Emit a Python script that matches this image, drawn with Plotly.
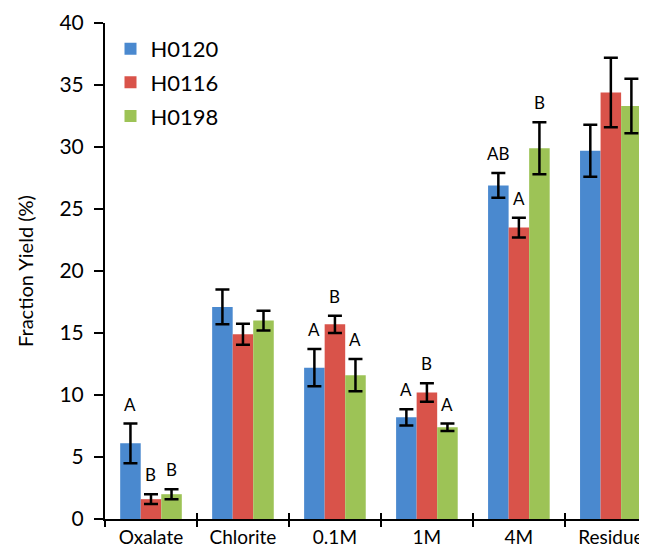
import plotly.graph_objects as go

categories = ["Oxalate", "Chlorite", "0.1M", "1M", "4M", "Residue"]
series_names = ["H0120", "H0116", "H0198"]
h0120 = [6.1, 17.1, 12.2, 8.2, 26.9, 29.7]
h0120_err = [1.6, 1.4, 1.5, 0.65, 1.0, 2.1]
h0116 = [1.6, 14.9, 15.7, 10.2, 23.5, 34.4]
h0116_err = [0.4, 0.85, 0.7, 0.75, 0.8, 2.8]
h0198 = [2.0, 16.0, 11.6, 7.4, 29.9, 33.3]
h0198_err = [0.4, 0.8, 1.3, 0.3, 2.1, 2.2]
letters_h0120 = ["A", "", "A", "A", "AB", ""]
letters_h0116 = ["B", "", "B", "B", "A", ""]
letters_h0198 = ["B", "", "A", "A", "B", ""]
y_ticks = [0, 5, 10, 15, 20, 25, 30, 35, 40]

colors = ["#4A89CF", "#D9534A", "#9DC356"]
values = [h0120, h0116, h0198]
errors = [h0120_err, h0116_err, h0198_err]
letters = [letters_h0120, letters_h0116, letters_h0198]

FONT = "Lato"
W, H = 647, 553
ML, MR, MT, MB = 97, 0, 15, 42
bargap = 0.33
xr = [-0.5, 5.48]

fig = go.Figure()
for i in range(3):
    fig.add_trace(go.Bar(
        x=categories, y=values[i], name=series_names[i],
        marker=dict(color=colors[i], line=dict(width=0)),
        error_y=dict(type="data", array=errors[i], color="black",
                     thickness=2.5, width=7),
        legendgroup=series_names[i],
    ))

# overlay axis providing the inward half of the x tick marks
fig.add_trace(go.Scatter(x=categories, y=[None]*6, xaxis="x2",
                         showlegend=False, hoverinfo="skip"))

plot_w = W - ML - MR
cat_px = plot_w / (xr[1] - xr[0])
bar_px = cat_px * (1 - bargap) / 3

for i in range(3):
    for j, cat in enumerate(categories):
        if letters[i][j]:
            fig.add_annotation(
                x=cat, y=values[i][j] + errors[i][j], xref="x", yref="y",
                text=letters[i][j], showarrow=False, yanchor="bottom",
                xshift=(i - 1) * bar_px, yshift=7,
                font=dict(family=FONT, size=17, color="black"))

axis_common = dict(showgrid=False, zeroline=False)
fig.update_layout(
    width=W, height=H,
    margin=dict(l=ML, r=MR, t=MT, b=MB),
    paper_bgcolor="white", plot_bgcolor="white",
    barmode="group", bargap=bargap, bargroupgap=0,
    font=dict(family=FONT, color="black"),
    showlegend=True,
    legend=dict(x=0.01, y=0.99, xanchor="left", yanchor="top",
                font=dict(family=FONT, size=22), tracegroupgap=2,
                bgcolor="rgba(0,0,0,0)"),
    xaxis=dict(**axis_common, range=xr, type="category",
               showline=True, linecolor="black", linewidth=2,
               ticks="outside", tickson="boundaries", ticklen=6,
               tickwidth=2, tickcolor="black", ticklabelstandoff=0,
               tickfont=dict(family=FONT, size=19)),
    xaxis2=dict(**axis_common, range=xr, type="category", overlaying="x",
                showline=False, ticks="inside",
                tickson="boundaries", ticklen=6, tickwidth=2,
                tickcolor="black", showticklabels=False, anchor="y"),
    yaxis=dict(**axis_common, range=[0, 40], tickvals=y_ticks,
               showline=True, linecolor="black", linewidth=2,
               ticks="outside", ticklen=9, tickwidth=2, tickcolor="black",
               ticklabelstandoff=6,
               tickfont=dict(family=FONT, size=21),
               title=dict(text="Fraction Yield (%)",
                          font=dict(family=FONT, size=20), standoff=20)),
)

fig.write_html("out.html")
